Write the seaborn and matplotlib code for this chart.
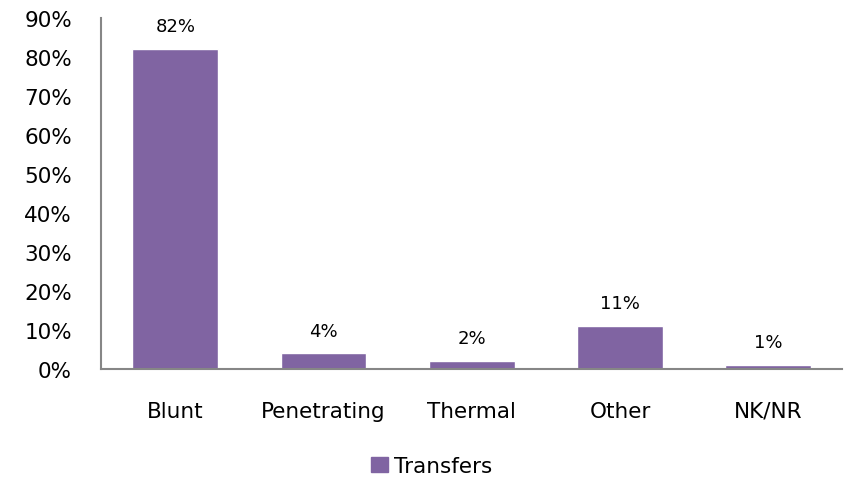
import matplotlib
matplotlib.use("Agg")
import matplotlib.pyplot as plt
import seaborn as sns
import pandas as pd

categories = ["Blunt", "Penetrating", "Thermal", "Other", "NK/NR"]
transfers = [82, 4, 2, 11, 1]
series_name = "Transfers"
yticks = [0, 10, 20, 30, 40, 50, 60, 70, 80, 90]

df = pd.DataFrame({"cat": categories, "val": transfers, "series": series_name})

sns.set_style("white")
plt.rcParams['font.family'] = ['DejaVu Sans']
plt.rcParams['text.color'] = 'black'
plt.rcParams['xtick.color'] = 'black'
plt.rcParams['ytick.color'] = 'black'

fig = plt.figure(figsize=(8.5, 4.85), dpi=100)
ax = fig.add_axes([0.119, 0.237, 0.872, 0.724])
color = "#8064A2"
sns.barplot(data=df, x="cat", y="val", hue="series", palette=[color],
            width=0.58, ax=ax, legend=False, saturation=1)

for p, v in zip(ax.patches, transfers):
    ax.annotate(f"{v}%", (p.get_x() + p.get_width() / 2, p.get_height()),
                xytext=(0, 10), textcoords="offset points",
                ha="center", va="bottom", fontsize=13, color="black")

ax.set_ylim(0, 90)
ax.set_xlim(-0.5, len(categories) - 0.5)
ax.set_yticks(yticks)
ax.set_yticklabels([f"{t}%" for t in yticks], fontsize=15.5)
ax.tick_params(axis="x", labelsize=15.5, pad=23, length=0, colors="black")
ax.tick_params(axis="y", length=0, pad=21, colors="black")
ax.set_xlabel("")
ax.set_ylabel("")
for s in ["top", "right"]:
    ax.spines[s].set_visible(False)
for s in ["left", "bottom"]:
    ax.spines[s].set_color("#868686")
    ax.spines[s].set_linewidth(1.5)

from matplotlib.patches import Patch
handles = [Patch(facecolor=color, edgecolor=color, label=series_name)]
fig.legend(handles=handles, loc="center", bbox_to_anchor=(0.508, 0.037),
           frameon=False, fontsize=15.5, handlelength=0.75, handleheight=0.75,
           handletextpad=0.3, labelcolor="black")

fig.savefig("out.png", dpi=100)
